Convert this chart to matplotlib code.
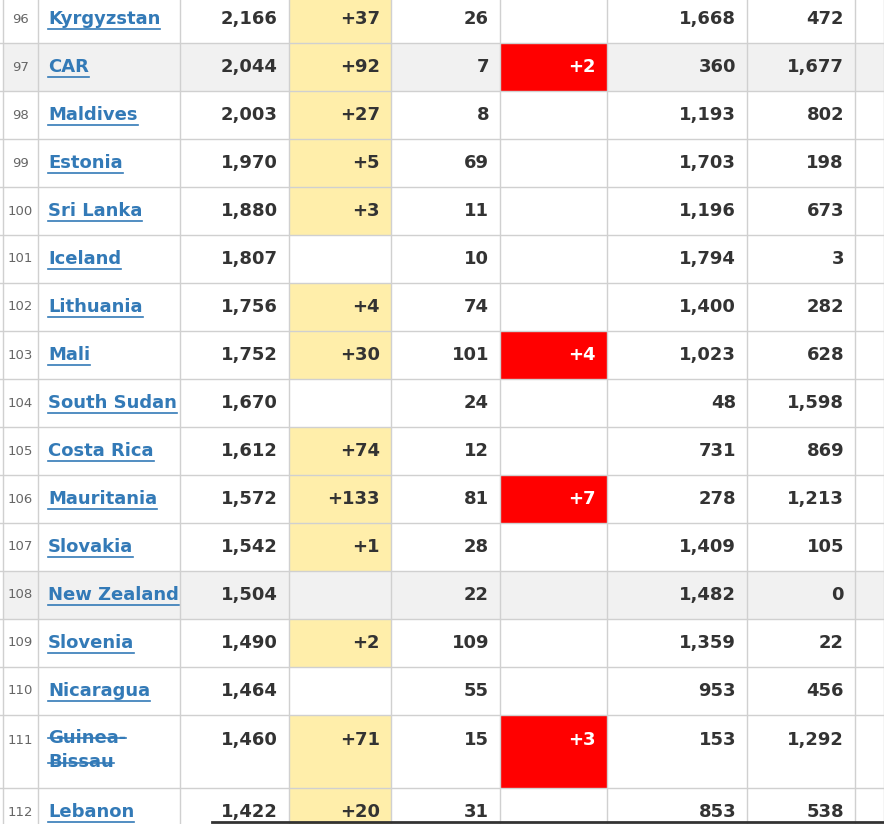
import matplotlib
matplotlib.use("Agg")
import matplotlib.pyplot as plt
from matplotlib.patches import Rectangle

ranks = [96,97,98,99,100,101,102,103,104,105,106,107,108,109,110,111,112]
countries = ["Kyrgyzstan","CAR","Maldives","Estonia","Sri Lanka","Iceland","Lithuania","Mali",
             "South Sudan","Costa Rica","Mauritania","Slovakia","New Zealand","Slovenia","Nicaragua",
             "Guinea-\nBissau","Lebanon"]
total_cases = ["2,166","2,044","2,003","1,970","1,880","1,807","1,756","1,752","1,670","1,612",
               "1,572","1,542","1,504","1,490","1,464","1,460","1,422"]
new_cases = ["+37","+92","+27","+5","+3","","+4","+30","","+74","+133","+1","","+2","","+71","+20"]
total_deaths = ["26","7","8","69","11","10","74","101","24","12","81","28","22","109","55","15","31"]
new_deaths = ["","+2","","","","","","+4","","","+7","","","","","+3",""]
recovered = ["1,668","360","1,193","1,703","1,196","1,794","1,400","1,023","48","731","278","1,409",
             "1,482","1,359","953","153","853"]
active = ["472","1,677","802","198","673","3","282","628","1,598","869","1,213","105","0","22",
          "456","1,292","538"]
gray_rows = [97, 108]

W, H = 884, 824
fig = plt.figure(figsize=(W/100, H/100), dpi=100)
ax = fig.add_axes([0, 0, 1, 1])
ax.set_xlim(0, W); ax.set_ylim(H, 0); ax.axis("off")

xs = [3, 38, 180, 289, 391, 500, 607, 747, 855, 884]
heights = [48]*15 + [73, 60]
y0 = -5
grid = "#d0d0d0"
fs = 13
renderer = fig.canvas.get_renderer()
ytop = y0
for i, r in enumerate(ranks):
    h = heights[i]
    if r in gray_rows:
        ax.add_patch(Rectangle((xs[0], ytop), W - xs[0], h, color="#f1f1f1", lw=0))
    if new_cases[i]:
        ax.add_patch(Rectangle((xs[3], ytop), xs[4]-xs[3], h, color="#ffeeaa", lw=0))
    if new_deaths[i]:
        ax.add_patch(Rectangle((xs[5], ytop), xs[6]-xs[5], h, color="#ff0000", lw=0))
    ty = ytop + 24 if h != 73 else ytop + 25
    ax.text((xs[0]+xs[1])/2, ty, str(r), ha="center", va="center", fontsize=9.5, color="#666666")
    t = ax.text(xs[1]+10, ty, countries[i], ha="left", va="center", fontsize=fs,
                fontweight="bold", color="#337ab7", linespacing=1.45)
    # underline each line
    lines = countries[i].split("\n")
    for k, ln in enumerate(lines):
        tt = ax.text(0, 0, ln, fontsize=fs, fontweight="bold")
        bb = tt.get_window_extent(renderer)
        tt.remove()
        yl = ty + 10 + (k - (len(lines)-1)/2)*25 + (12 if len(lines) > 1 else 0) - (0 if len(lines) == 1 else 12)
        if len(lines) > 1:
            yl = ty - 12.5 + 10 + k*25 + 0
        ax.plot([xs[1]+10, xs[1]+10+bb.width], [yl, yl], color="#337ab7", lw=1.2)
    if len(lines) > 1:
        t.set_va("top"); t.set_y(ytop + 14)
        ty = ytop + 25
        for k in range(2):
            pass
    vals = [total_cases[i], new_cases[i], total_deaths[i], new_deaths[i], recovered[i], active[i]]
    for j, v in enumerate(vals):
        col = "white" if j == 3 else "#333333"
        ax.text(xs[j+3]-11, ty, v, ha="right", va="center", fontsize=fs, fontweight="bold", color=col)
    ytop += h
    ax.plot([0, W], [ytop, ytop], color=grid, lw=1)

for x in xs:
    ax.plot([x, x], [0, H], color=grid, lw=1)
ax.plot([212, W], [822, 822], color="#333333", lw=2)
fig.savefig("out.png", dpi=100)
